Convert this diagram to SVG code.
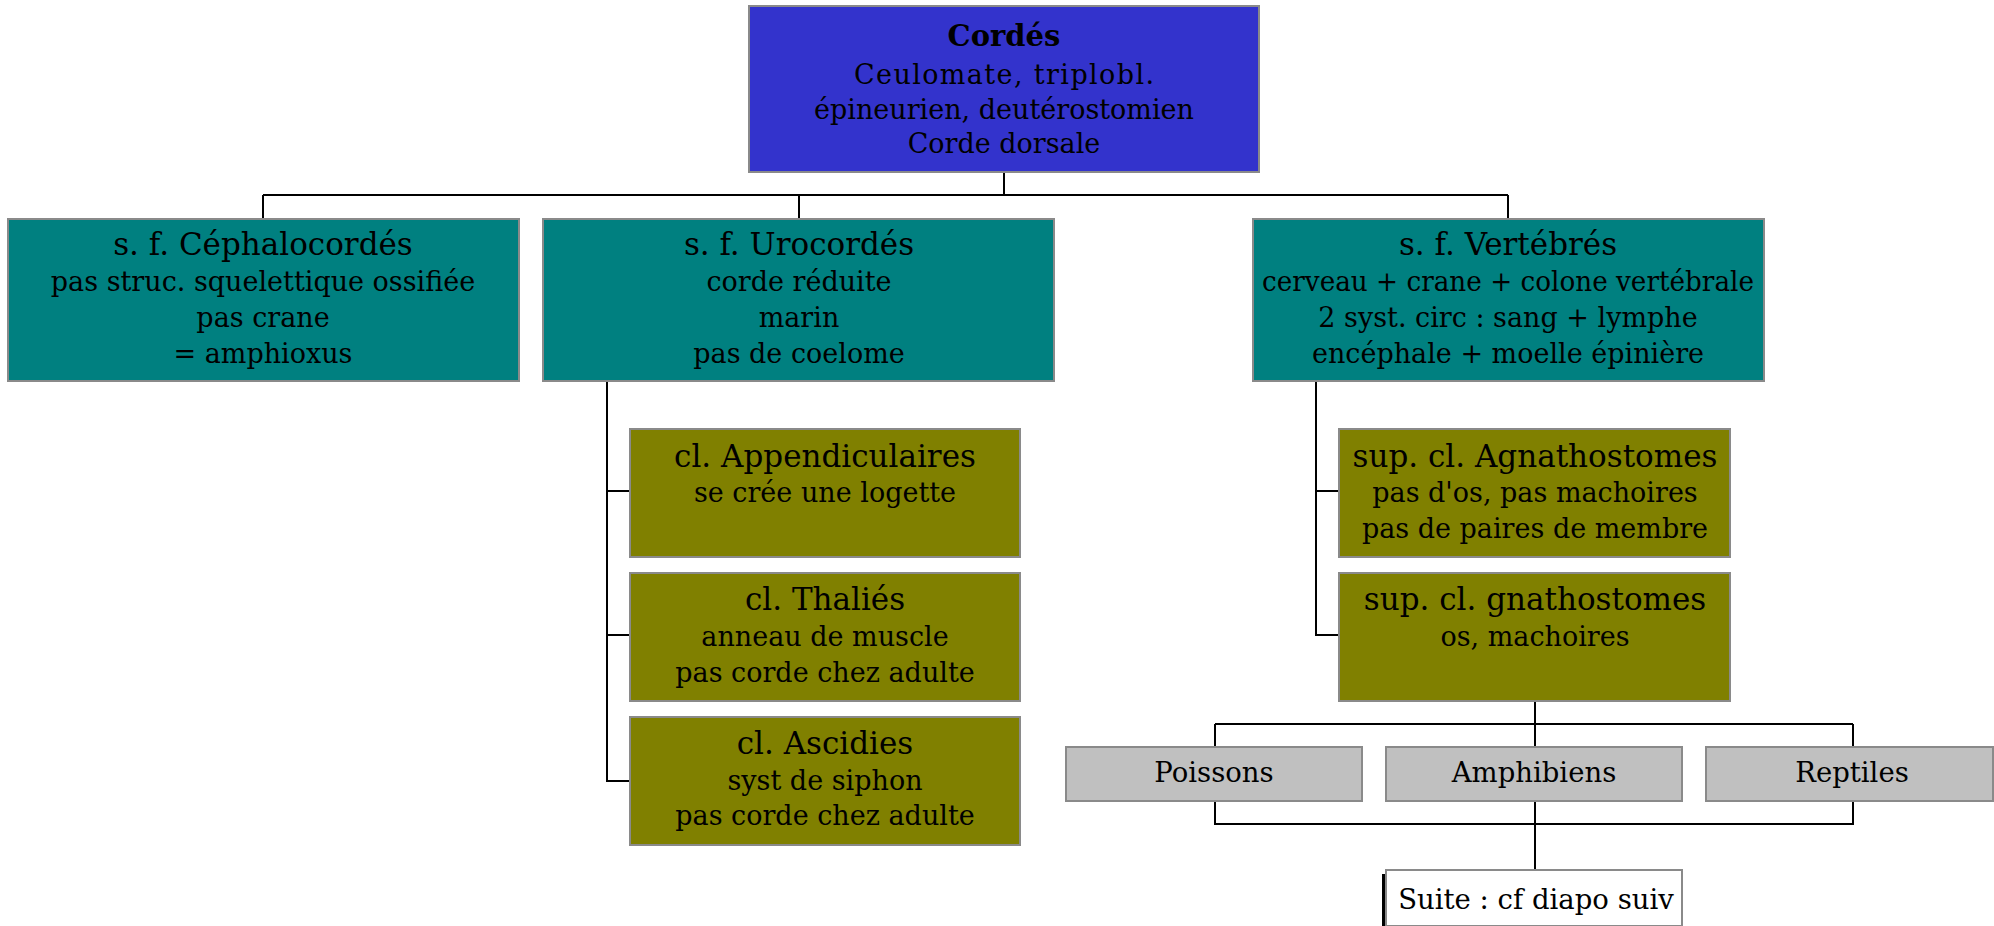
<svg xmlns="http://www.w3.org/2000/svg" width="1994" height="926" viewBox="0 0 1994 926">
<style>
  .box { stroke: #8a8a8a; stroke-width: 2; }
  .blue { fill: #3333cc; }
  .teal { fill: #008080; }
  .olive { fill: #808000; }
  .gray { fill: #c0c0c0; }
  .white { fill: #ffffff; }
  text { font-family: "DejaVu Serif", "Liberation Serif", serif; fill: #000; text-anchor: middle; }
  .t { font-size: 31px; }
  .s { font-size: 27px; }
  .l { font-size: 27.5px; }
  .b { font-size: 29px; font-weight: bold; }
  .conn { fill: none; stroke: #000; stroke-width: 2; }
</style>
<rect width="1994" height="926" fill="#ffffff"/>
<g id="connectors">
  <path class="conn" d="M1004 172 V195 M263 195 H1508 M263 195 V219 M799 195 V219 M1508 195 V219"/>
  <path class="conn" d="M607 381 V781 H630 M607 491 H630 M607 635 H630"/>
  <path class="conn" d="M1316 381 V635 H1339 M1316 491 H1339"/>
  <path class="conn" d="M1535 701 V724 M1215 724 H1853 M1215 724 V747 M1535 724 V747 M1853 724 V747"/>
  <path class="conn" d="M1215 801 V824 H1853 V801 M1535 801 V870"/>
</g>
<g id="cordes">
  <rect class="box blue" x="749" y="6" width="510" height="166"/>
  <text class="b" x="1004" y="46">Cordés</text>
  <text class="s" x="1004" y="84" textLength="300" lengthAdjust="spacing">Ceulomate, triplobl.</text>
  <text class="s" x="1004" y="119">épineurien, deutérostomien</text>
  <text class="s" x="1004" y="153">Corde dorsale</text>
</g>
<g id="cephalocordes">
  <rect class="box teal" x="8" y="219" width="511" height="162"/>
  <text class="t" x="263" y="255">s. f. Céphalocordés</text>
  <text class="s" x="263" y="291">pas struc. squelettique ossifiée</text>
  <text class="s" x="263" y="327">pas crane</text>
  <text class="s" x="263" y="363">= amphioxus</text>
</g>
<g id="urocordes">
  <rect class="box teal" x="543" y="219" width="511" height="162"/>
  <text class="t" x="799" y="255">s. f. Urocordés</text>
  <text class="s" x="799" y="291">corde réduite</text>
  <text class="s" x="799" y="327">marin</text>
  <text class="s" x="799" y="363">pas de coelome</text>
</g>
<g id="vertebres">
  <rect class="box teal" x="1253" y="219" width="511" height="162"/>
  <text class="t" x="1508" y="255">s. f. Vertébrés</text>
  <text class="s" x="1508" y="291" textLength="492" lengthAdjust="spacingAndGlyphs">cerveau + crane + colone vertébrale</text>
  <text class="s" x="1508" y="327">2 syst. circ : sang + lymphe</text>
  <text class="s" x="1508" y="363">encéphale + moelle épinière</text>
</g>
<g id="appendiculaires">
  <rect class="box olive" x="630" y="429" width="390" height="128"/>
  <text class="t" x="825" y="467">cl. Appendiculaires</text>
  <text class="s" x="825" y="502">se crée une logette</text>
</g>
<g id="thalies">
  <rect class="box olive" x="630" y="573" width="390" height="128"/>
  <text class="t" x="825" y="610">cl. Thaliés</text>
  <text class="s" x="825" y="646">anneau de muscle</text>
  <text class="s" x="825" y="682">pas corde chez adulte</text>
</g>
<g id="ascidies">
  <rect class="box olive" x="630" y="717" width="390" height="128"/>
  <text class="t" x="825" y="754">cl. Ascidies</text>
  <text class="s" x="825" y="790">syst de siphon</text>
  <text class="s" x="825" y="825">pas corde chez adulte</text>
</g>
<g id="agnathostomes">
  <rect class="box olive" x="1339" y="429" width="391" height="128"/>
  <text class="t" x="1535" y="467">sup. cl. Agnathostomes</text>
  <text class="s" x="1535" y="502">pas d'os, pas machoires</text>
  <text class="s" x="1535" y="538">pas de paires de membre</text>
</g>
<g id="gnathostomes">
  <rect class="box olive" x="1339" y="573" width="391" height="128"/>
  <text class="t" x="1535" y="610">sup. cl. gnathostomes</text>
  <text class="s" x="1535" y="646">os, machoires</text>
</g>
<g id="poissons">
  <rect class="box gray" x="1066" y="747" width="296" height="54"/>
  <text class="l" x="1214" y="782">Poissons</text>
</g>
<g id="amphibiens">
  <rect class="box gray" x="1386" y="747" width="296" height="54"/>
  <text class="l" x="1534" y="782">Amphibiens</text>
</g>
<g id="reptiles">
  <rect class="box gray" x="1706" y="747" width="287" height="54"/>
  <text class="l" x="1852" y="782">Reptiles</text>
</g>
<g id="suite">
  <rect x="1382" y="874" width="296" height="56" fill="#000"/>
  <rect class="box white" x="1386" y="870" width="296" height="56"/>
  <text class="l" x="1536" y="909">Suite : cf diapo suiv</text>
</g>
</svg>
